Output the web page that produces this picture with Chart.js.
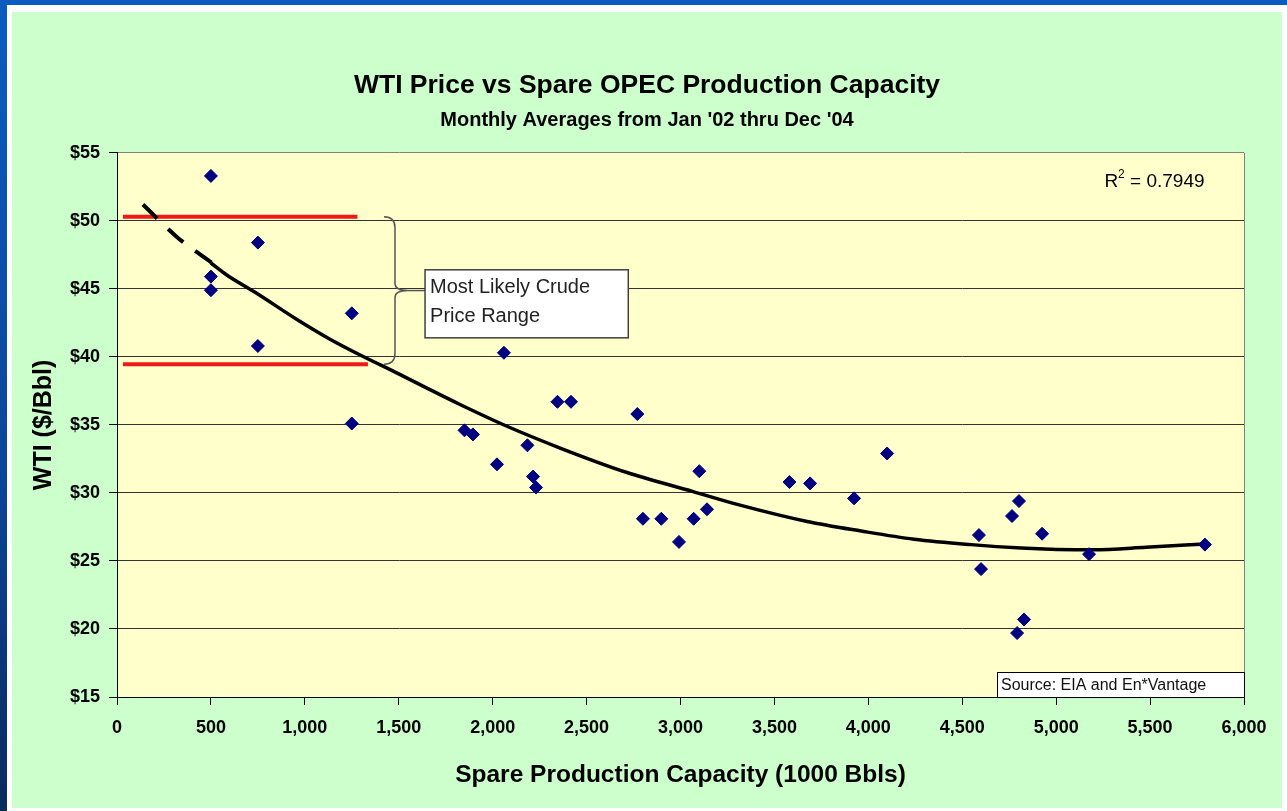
<!DOCTYPE html>
<html>
<head>
<meta charset="utf-8">
<title>WTI Price vs Spare OPEC Production Capacity</title>
<script src="https://cdn.jsdelivr.net/npm/chart.js@4.4.1/dist/chart.umd.min.js"></script>
<style>
  html, body { margin: 0; padding: 0; }
  body { width: 1287px; height: 811px; position: relative; background: #fff; overflow: hidden; }
  #blueTop { position: absolute; left: 0; top: 0; width: 1287px; height: 5px; background: #0b5cc0; }
  #blueLeft { position: absolute; left: 0; top: 0; width: 7px; height: 811px; background: linear-gradient(#0b5cc0, #0d4496 60%, #0a2a5c); }
  #panel { position: absolute; left: 12px; top: 12px; width: 1270px; height: 796px; background: #ccffcc; }
  #chart { display: block; }
</style>
</head>
<body>
<div id="blueTop"></div>
<div id="blueLeft"></div>
<div id="panel"><canvas id="chart" width="1270" height="796"></canvas></div>
<script>
const FONT = '"Liberation Sans", Arial, sans-serif';

// monthly averages Jan '02 - Dec '04
const spareCapacity = [500, 500, 500, 750, 750, 1250, 1250, 1850, 1895, 2023, 2060, 2185, 2215, 2231,
    2345, 2417, 2770, 2800, 2898, 2992, 3070, 3100, 3141, 3580, 3690, 3924, 4100, 4589, 4600,
    4765, 4792, 4802, 4829, 4925, 5175, 5792];
const wtiPrice = [53.3, 45.9, 44.9, 48.4, 40.8, 43.2, 35.1, 34.6, 34.3, 32.1, 40.3, 33.5, 31.2, 30.4,
    36.7, 36.7, 35.8, 28.1, 28.1, 26.4, 28.1, 31.6, 28.8, 30.8, 30.7, 29.6, 32.9, 26.9, 24.4,
    28.3, 19.7, 29.4, 20.7, 27.0, 25.5, 26.2];

// polynomial trend line (solid part)
const trendX = [500, 586, 735, 958, 1134, 1300, 1500, 1650, 1826, 2076, 2359, 2715, 3067, 3317,
    3674, 3961, 4243, 4547, 4813, 5005, 5196, 5478, 5792];
const trendY = [46.9, 46.0, 44.75, 42.75, 41.3, 40.1, 38.75, 37.7, 36.5, 34.9, 33.3, 31.5, 30.1, 29.1,
    27.9, 27.2, 26.6, 26.2, 25.95, 25.85, 25.82, 26.0, 26.25];
// dashed backward extension
const trendBackX = [138, 320, 506];
const trendBackY = [51.2, 48.8, 46.9];

// "most likely" price range (red lines)
const rangeHighX = [32, 1280];
const rangeHighY = [50.3, 50.3];
const rangeLowX = [32, 1336];
const rangeLowY = [39.45, 39.45];

const xTickValues = [0, 500, 1000, 1500, 2000, 2500, 3000, 3500, 4000, 4500, 5000, 5500, 6000];
const yTickValues = [15, 20, 25, 30, 35, 40, 45, 50, 55];

const rangeLabel = ['Most Likely Crude', 'Price Range'];
const sourceLabel = 'Source: EIA and En*Vantage';
const rSquared = '0.7949';

function pts(xs, ys) {
    return xs.map((x, i) => ({ x: x, y: ys[i] }));
}

// background, borders, brace and text boxes
const decor = {
    id: 'decor',
    beforeDraw(chart) {
        const { ctx, chartArea: a } = chart;
        ctx.save();
        ctx.fillStyle = '#ffffcc';
        ctx.fillRect(a.left, a.top, a.right - a.left, a.bottom - a.top);
        ctx.restore();
    },
    afterDatasetsDraw(chart) {
        const { ctx, chartArea: a } = chart;
        const xs = chart.scales.x, ys = chart.scales.y;
        ctx.save();

        // right border of plot
        ctx.strokeStyle = '#808080';
        ctx.lineWidth = 1;
        ctx.beginPath();
        ctx.moveTo(Math.round(a.right) + 0.5, a.top);
        ctx.lineTo(Math.round(a.right) + 0.5, a.bottom);
        ctx.stroke();

        // brace
        const bx = xs.getPixelForValue(1480);
        const by1 = ys.getPixelForValue(rangeHighY[0]);
        const by2 = ys.getPixelForValue(rangeLowY[0]);
        const tipX = xs.getPixelForValue(1549);
        const midY = (by1 + by2) / 2;
        const c = 11;
        ctx.strokeStyle = '#555';
        ctx.lineWidth = 1.5;
        ctx.beginPath();
        ctx.moveTo(bx - c, by1);
        ctx.quadraticCurveTo(bx, by1, bx, by1 + c);
        ctx.lineTo(bx, midY - 7);
        ctx.quadraticCurveTo(bx, midY, tipX, midY);
        ctx.quadraticCurveTo(bx, midY, bx, midY + 7);
        ctx.lineTo(bx, by2 - c);
        ctx.quadraticCurveTo(bx, by2, bx - c, by2);
        ctx.stroke();

        // label box
        const l = xs.getPixelForValue(1640), r = xs.getPixelForValue(2722);
        const t = ys.getPixelForValue(46.4), b = ys.getPixelForValue(41.4);
        ctx.beginPath();
        ctx.moveTo(tipX, midY);
        ctx.lineTo(l, midY);
        ctx.stroke();
        ctx.fillStyle = '#fff';
        ctx.fillRect(l, t, r - l, b - t);
        ctx.strokeStyle = '#404040';
        ctx.lineWidth = 1.5;
        ctx.strokeRect(l, t, r - l, b - t);
        ctx.fillStyle = '#222';
        ctx.font = '20px ' + FONT;
        ctx.textAlign = 'left';
        ctx.textBaseline = 'alphabetic';
        ctx.fillText(rangeLabel[0], l + 5, t + 23);
        ctx.fillText(rangeLabel[1], l + 5, t + 52);

        // source box
        const sl = xs.getPixelForValue(4685), sr = xs.getPixelForValue(6000);
        const st = ys.getPixelForValue(16.84), sb = ys.getPixelForValue(15);
        ctx.fillStyle = '#fff';
        ctx.fillRect(sl, st, sr - sl, sb - st);
        ctx.strokeStyle = '#000';
        ctx.lineWidth = 1;
        ctx.strokeRect(Math.round(sl) + 0.5, Math.round(st) + 0.5, sr - sl, sb - st);
        ctx.fillStyle = '#111';
        ctx.font = '16px ' + FONT;
        ctx.textBaseline = 'middle';
        ctx.fillText(sourceLabel, sl + 4, (st + sb) / 2 + 1);

        // R squared
        const rx = xs.getPixelForValue(5790), ry = ys.getPixelForValue(52.9);
        ctx.fillStyle = '#000';
        ctx.textAlign = 'right';
        ctx.textBaseline = 'middle';
        ctx.font = '19px ' + FONT;
        const tail = ' = ' + rSquared;
        ctx.fillText(tail, rx, ry);
        const w1 = ctx.measureText(tail).width;
        ctx.font = '12px ' + FONT;
        ctx.fillText('2', rx - w1, ry - 7);
        const w2 = ctx.measureText('2').width;
        ctx.font = '19px ' + FONT;
        ctx.fillText('R', rx - w1 - w2, ry);
        ctx.restore();
    }
};

new Chart(document.getElementById('chart'), {
    type: 'scatter',
    data: {
        datasets: [
            {
                label: 'WTI',
                data: pts(spareCapacity, wtiPrice),
                pointStyle: 'rectRot',
                pointRadius: 6.5,
                backgroundColor: '#000080',
                borderColor: '#000080',
                borderWidth: 1
            },
            {
                label: 'Trend',
                data: pts(trendX, trendY),
                showLine: true,
                borderColor: '#000',
                borderWidth: 3.5,
                pointRadius: 0,
                cubicInterpolationMode: 'monotone'
            },
            {
                label: 'Trend back',
                data: pts(trendBackX, trendBackY),
                showLine: true,
                borderColor: '#000',
                borderWidth: 4,
                borderDash: [20, 15],
                pointRadius: 0,
                cubicInterpolationMode: 'monotone'
            },
            {
                label: 'High',
                data: pts(rangeHighX, rangeHighY),
                showLine: true,
                borderColor: '#f01818',
                borderWidth: 4,
                pointRadius: 0
            },
            {
                label: 'Low',
                data: pts(rangeLowX, rangeLowY),
                showLine: true,
                borderColor: '#f01818',
                borderWidth: 4,
                pointRadius: 0
            }
        ]
    },
    options: {
        responsive: false,
        animation: false,
        devicePixelRatio: 1,
        layout: { padding: { left: 38, right: 38, top: 0, bottom: 0 } },
        plugins: {
            legend: { display: false },
            tooltip: { enabled: false },
            title: {
                display: true,
                text: 'WTI Price vs Spare OPEC Production Capacity',
                color: '#000',
                font: { family: FONT, size: 26.5, weight: 'bold' },
                padding: { top: 58, bottom: 0 }
            },
            subtitle: {
                display: true,
                text: "Monthly Averages from Jan '02 thru Dec '04",
                color: '#000',
                font: { family: FONT, size: 20, weight: 'bold' },
                padding: { top: 7, bottom: 20 }
            }
        },
        scales: {
            x: {
                type: 'linear',
                min: 0,
                max: 6000,
                afterBuildTicks: (s) => { s.ticks = xTickValues.map(v => ({ value: v })); },
                afterFit: (s) => { s.height = 111; },
                ticks: {
                    color: '#000',
                    font: { family: FONT, size: 18, weight: 'bold' },
                    padding: 12,
                    maxRotation: 0,
                    autoSkip: false,
                    callback: (v) => v.toLocaleString('en-US')
                },
                grid: { drawOnChartArea: false, drawTicks: true, tickLength: 8, tickColor: '#000' },
                border: { color: '#000', width: 1 },
                title: {
                    display: true,
                    text: 'Spare Production Capacity (1000 Bbls)',
                    color: '#000',
                    font: { family: FONT, size: 24.5, weight: 'bold' },
                    padding: { top: 0, bottom: 18 }
                }
            },
            y: {
                type: 'linear',
                min: 15,
                max: 55,
                afterBuildTicks: (s) => { s.ticks = yTickValues.map(v => ({ value: v })); },
                afterFit: (s) => { s.width = 67; },
                ticks: {
                    color: '#000',
                    font: { family: FONT, size: 18, weight: 'bold' },
                    padding: 9,
                    autoSkip: false,
                    callback: (v) => '$' + v
                },
                grid: {
                    color: (ctx) => (ctx.tick && ctx.tick.value === 55 ? '#808080' : '#333'),
                    lineWidth: 1,
                    tickLength: 8,
                    tickColor: '#000'
                },
                border: { color: '#000', width: 1 },
                title: {
                    display: true,
                    text: 'WTI ($/Bbl)',
                    color: '#000',
                    font: { family: FONT, size: 25, weight: 'bold' },
                    padding: { top: -21, bottom: 0 }
                }
            }
        }
    },
    plugins: [decor]
});
</script>
</body>
</html>
